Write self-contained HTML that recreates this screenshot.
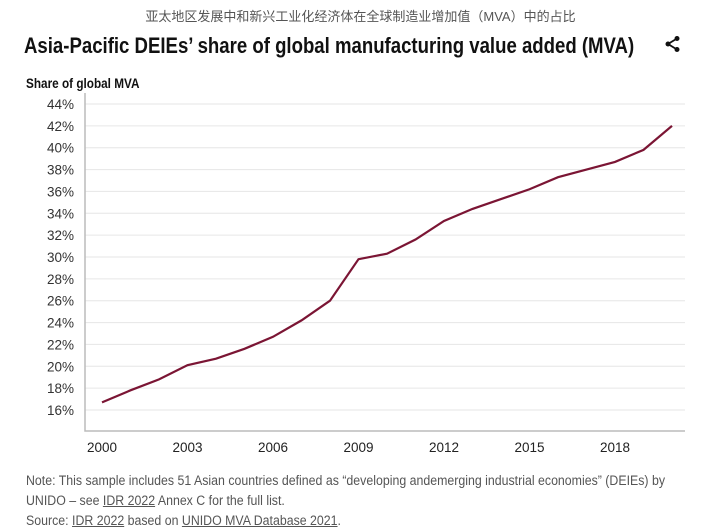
<!DOCTYPE html>
<html><head><meta charset="utf-8"><style>
body{margin:0;width:721px;height:530px;background:#fff;overflow:hidden;font-family:"Liberation Sans",sans-serif;position:relative}
.t{position:absolute;white-space:nowrap;transform-origin:0 0}
a{color:#555;text-decoration:underline}
</style></head><body>
<div class="t" style="left:0;width:721px;text-align:center;top:6px;font-size:13px;color:#555;font-family:'Liberation Sans','Noto Sans CJK SC',sans-serif">亚太地区发展中和新兴工业化经济体在全球制造业增加值（MVA）中的占比</div>
<div class="t" style="left:24px;top:33px;font-size:22px;font-weight:bold;color:#111;transform:scaleX(0.845)">Asia-Pacific DEIEs’ share of global manufacturing value added (MVA)</div>
<svg class="t" style="left:664px;top:35px" width="18" height="18" viewBox="0 0 18 18"><circle cx="13" cy="3.5" r="2.5" fill="#111"/><circle cx="4" cy="9" r="2.5" fill="#111"/><circle cx="13" cy="14.5" r="2.5" fill="#111"/><path d="M13 3.5L4 9L13 14.5" stroke="#111" stroke-width="1.8" fill="none"/></svg>
<div class="t" style="left:26px;top:75px;font-size:14px;color:#111;font-weight:bold;transform:scaleX(0.84)">Share of global MVA</div>
<svg id="c" class="t" style="left:0;top:0" width="721" height="470"></svg>
<div class="t" style="left:26px;top:471px;font-size:13.5px;color:#555;line-height:20px;transform:scaleX(0.915)">Note: This sample includes 51 Asian countries defined as “developing andemerging industrial economies” (DEIEs) by<br>UNIDO – see <a>IDR 2022</a> Annex C for the full list.<br>Source: <a>IDR 2022</a> based on <a>UNIDO MVA Database 2021</a>.</div>
<script>
const years=[2000,2001,2002,2003,2004,2005,2006,2007,2008,2009,2010,2011,2012,2013,2014,2015,2016,2017,2018,2019,2020];
const shares=[16.7,17.8,18.8,20.1,20.7,21.6,22.7,24.2,26.0,29.8,30.3,31.6,33.3,34.4,35.3,36.2,37.3,38.0,38.7,39.8,42.0];
const yTicks=[16,18,20,22,24,26,28,30,32,34,36,38,40,42,44];
const xTicks=[2000,2003,2006,2009,2012,2015,2018];
const NS='http://www.w3.org/2000/svg';const svg=document.getElementById('c');
const x=v=>102+(v-2000)*28.5;const y=v=>410-(v-16)*(306/28);
function mk(t,a){const e=document.createElementNS(NS,t);for(const k in a)e.setAttribute(k,a[k]);svg.appendChild(e);return e;}
yTicks.forEach(v=>{
const g=mk('line',{x1:85,x2:685,y1:y(v),y2:y(v),stroke:'#e6e6e6','stroke-width':1});


const t=mk('text',{x:74,y:y(v)+5,'text-anchor':'end','font-size':13.5,fill:'#333'});t.textContent=v+'%';


});
const ax=mk('path',{d:'M85 93V431H685',stroke:'#bbb','stroke-width':1.5,fill:'none'});


xTicks.forEach(v=>{const t=mk('text',{x:x(v),y:452,'text-anchor':'middle','font-size':13.5,fill:'#222'});t.textContent=v;

});
const p=mk('polyline',{points:years.map((yr,i)=>x(yr)+','+y(shares[i])).join(' '),fill:'none',stroke:'#7b1534','stroke-width':2.2});


</script>
</body></html>
